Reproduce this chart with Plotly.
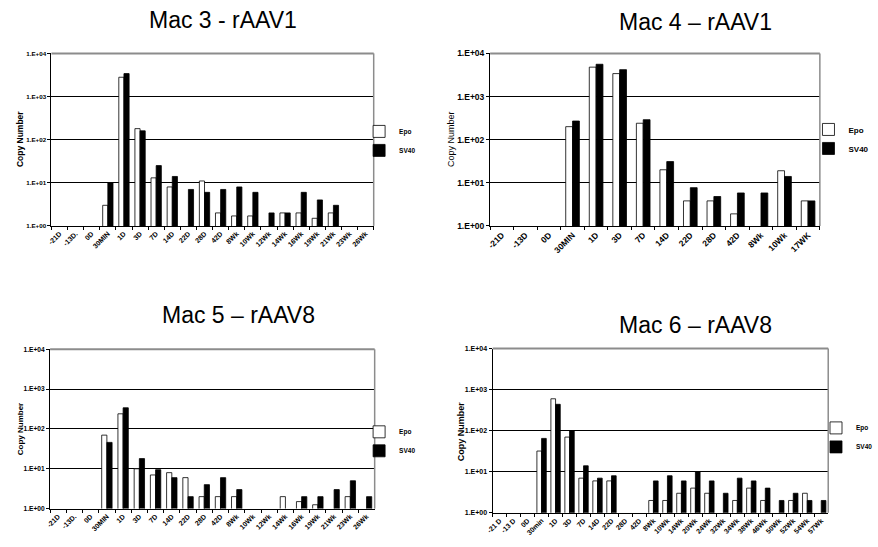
import plotly.graph_objects as go

# ---------------- data ----------------
mac3_cats = ["-21D", "-13D.", "0D", "30MIN", "1D", "3D", "7D", "14D", "22D", "28D", "42D",
             "8Wk", "10Wk", "12Wk", "14Wk", "16Wk", "19Wk", "21Wk", "23Wk", "26Wk"]
mac3_epo = [None, None, None, 3, 2800, 180, 13, 8, None, 11, 2, 1.7, 1.7, None, 2, 2, 1.5, 2, None, None]
mac3_sv40 = [None, None, None, 10, 3400, 160, 25, 14, 7, 6, 7, 8, 6, 2, 2, 6, 4, 3, None, None]

mac4_cats = ["-21D", "-13D", "0D", "30MIN", "1D", "3D", "7D", "14D", "22D", "28D", "42D",
             "8Wk", "10Wk", "17WK"]
mac4_epo = [None, None, None, 200, 4800, 3400, 240, 20, 3.8, 3.8, 1.9, None, 19, 3.8]
mac4_sv40 = [None, None, None, 270, 5600, 4200, 290, 31, 7.7, 4.8, 5.8, 5.8, 14, 3.8]

mac5_cats = ["-21D", "-13D.", "0D", "30MIN", "1D", "3D", "7D", "14D", "22D", "28D", "42D",
             "8Wk", "10Wk", "12Wk", "14Wk", "16Wk", "19Wk", "21Wk", "23Wk", "26Wk"]
mac5_epo = [None, None, None, 70, 240, 10, 7, 8, 6, 2, 2, 2, None, None, 2, 1.5, 1.25, None, 2, None]
mac5_sv40 = [None, None, None, 46, 340, 18, 9.5, 6, 2, 4, 6, 3, None, None, None, 2, 2, 3, 5, 2]

mac6_cats = ["-21 D", "-13 D", "0D", "30min", "1D", "3D", "7D", "14D", "22D", "28D", "42D",
             "8Wk", "10Wk", "14Wk", "20Wk", "24Wk", "32Wk", "34Wk", "38Wk", "46Wk", "50Wk",
             "52Wk", "54Wk", "57Wk"]
mac6_epo = [None, None, None, 32, 600, 70, 7, 6, 6, None, None, 2, 2, 3, 4, 3, None, 2, 4, 2, None, 2, 3, None]
mac6_sv40 = [None, None, None, 65, 440, 100, 14, 7, 8, None, None, 6, 8, 6, 10, 6, 3, 7, 6, 4, 2, 3, 2, 2]

titles = ["Mac 3 - rAAV1", "Mac 4 \u2013 rAAV1", "Mac 5 \u2013 rAAV8", "Mac 6 \u2013 rAAV8"]
ytick_vals = [1, 10, 100, 1000, 10000]
ytick_text = ["1.E+00", "1.E+01", "1.E+02", "1.E+03", "1.E+04"]

W, H = 878, 547
FONT = "Liberation Sans, Arial, sans-serif"

panels = [
    dict(cats=mac3_cats, epo=mac3_epo, sv=mac3_sv40, box=(45.7, 377, 49.3, 225), bw=0.32,
         xf=7, yf=6.2, lf=6.5, leg=(362, 114), yt=(14, 137), yts=8.5, ytw="bold", ti=(222, 15)),
    dict(cats=mac4_cats, epo=mac4_epo, sv=mac4_sv40, box=(496.7, 835.7, 49.3, 225), bw=0.29,
         xf=8.5, yf=8.5, lf=8, leg=(824, 112), yt=(457, 137), yts=9, ytw="normal", ti=(708, 17)),
    dict(cats=mac5_cats, epo=mac5_epo, sv=mac5_sv40, box=(44.3, 378, 350.7, 513), bw=0.32,
         xf=7, yf=6.6, lf=6.5, leg=(362, 420), yt=(13.5, 432), yts=8, ytw="bold", ti=(238, 316)),
    dict(cats=mac6_cats, epo=mac6_epo, sv=mac6_sv40, box=(499.3, 844.3, 350, 517.3), bw=0.335,
         xf=7, yf=7, lf=6.5, leg=(832, 416), yt=(467, 434), yts=9, ytw="bold", ti=(708, 326)),
]

fig = go.Figure()
layout = dict(width=W, height=H, margin=dict(l=0, r=0, t=0, b=0), autosize=False,
              paper_bgcolor="white", plot_bgcolor="white", showlegend=True,
              font=dict(family=FONT, color="black"))
annotations = []
shapes = []

for i, p in enumerate(panels, start=1):
    sfx = "" if i == 1 else str(i)
    xa, ya = "x" + sfx, "y" + sfx
    leg = "legend" + sfx
    x0, x1, yt0, yb0 = p["box"]
    w = p["bw"]
    fig.add_trace(go.Bar(x=p["cats"], y=p["epo"], name="Epo", xaxis=xa, yaxis=ya, legend=leg,
                         width=w, offset=-w,
                         marker=dict(color="white", line=dict(color="black", width=0.8))))
    fig.add_trace(go.Bar(x=p["cats"], y=p["sv"], name="SV40", xaxis=xa, yaxis=ya, legend=leg,
                         width=w, offset=0,
                         marker=dict(color="black", line=dict(color="black", width=0.8))))
    n = len(p["cats"])
    layout["xaxis" + sfx] = dict(
        domain=[x0 / W, x1 / W], anchor=ya, type="category",
        categoryorder="array", categoryarray=p["cats"], range=[-0.5, n - 0.5],
        showline=True, linecolor="black", linewidth=1.2, showgrid=False,
        ticks="outside", ticklen=3, tickcolor="black", tickwidth=1, tickson="boundaries",
        tickangle=-45, tickfont=dict(family=FONT, size=p["xf"], weight="bold"),
        fixedrange=True)
    layout["yaxis" + sfx] = dict(
        domain=[1 - yb0 / H, 1 - yt0 / H], anchor=xa, type="log", range=[0, 4],
        tickvals=ytick_vals, ticktext=ytick_text,
        showline=True, linecolor="black", linewidth=1.2,
        showgrid=True, gridcolor="black", gridwidth=1,
        ticks="outside", ticklen=3, tickcolor="black",
        tickfont=dict(family=FONT, size=p["yf"], weight="bold"),
        zeroline=False, fixedrange=True)
    layout[leg] = dict(x=p["leg"][0] / W, y=1 - p["leg"][1] / H, xanchor="left", yanchor="top",
                       bgcolor="rgba(0,0,0,0)", borderwidth=0, tracegroupgap=0,
                       font=dict(family=FONT, size=p["lf"], weight="bold"))
    # plot-area border (top and right) in grey
    shapes.append(dict(type="line", xref=xa + " domain", yref=ya + " domain",
                       x0=0, x1=1, y0=1, y1=1, line=dict(color="#8c8c8c", width=2)))
    shapes.append(dict(type="line", xref=xa + " domain", yref=ya + " domain",
                       x0=1, x1=1, y0=0, y1=1, line=dict(color="#8c8c8c", width=1.5)))
    # y-axis title
    annotations.append(dict(text="Copy Number", xref="paper", yref="paper",
                            x=p["yt"][0] / W, y=1 - p["yt"][1] / H, textangle=-90,
                            showarrow=False, xanchor="center", yanchor="middle",
                            font=dict(family=FONT, size=p["yts"], weight=p["ytw"])))
    # chart title
    annotations.append(dict(text=titles[i - 1], xref="paper", yref="paper",
                            x=p["ti"][0] / W, y=1 - p["ti"][1] / H,
                            showarrow=False, xanchor="center", yanchor="middle",
                            font=dict(family=FONT, size=23)))

layout["annotations"] = annotations
layout["shapes"] = shapes
fig.update_layout(**layout)
fig.write_html("out.html")
